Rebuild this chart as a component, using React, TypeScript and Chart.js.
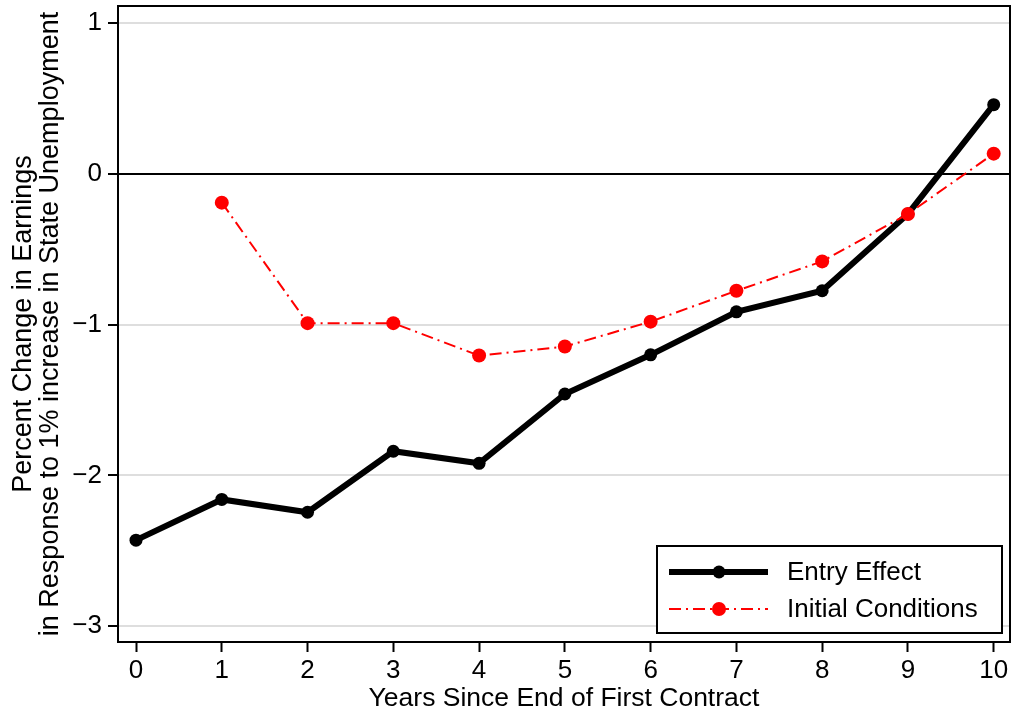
import React, { useEffect, useRef } from "react";
import { Chart, registerables } from "chart.js";

Chart.register(...registerables);

const years = [0, 1, 2, 3, 4, 5, 6, 7, 8, 9, 10];
const entryEffect = [-2.43, -2.16, -2.245, -1.84, -1.92, -1.46, -1.2, -0.915, -0.775, -0.265, 0.46];
const initialYears = [1, 2, 3, 4, 5, 6, 7, 8, 9, 10];
const initialConditions = [-0.19, -0.99, -0.99, -1.205, -1.145, -0.98, -0.775, -0.58, -0.265, 0.135];
const xTicks = [0, 1, 2, 3, 4, 5, 6, 7, 8, 9, 10];
const yTicks = [-3, -2, -1, 0, 1];
const seriesNames = ["Entry Effect", "Initial Conditions"];
const xTitle = "Years Since End of First Contract";
const yTitle = ["Percent Change in Earnings", "in Response to 1% increase in State Unemployment"];

const FONT = "'Liberation Sans', Arial, Helvetica, sans-serif";

const zeroPad = () => ({ left: 0, right: 0, top: 0, bottom: 0 });

const framePlugin = {
  id: "frameAndLegend",
  afterDraw(chart: any) {
    const { ctx, chartArea } = chart;
    ctx.save();
    ctx.strokeStyle = "#000";
    ctx.lineWidth = 2;
    ctx.strokeRect(chartArea.left, chartArea.top, chartArea.right - chartArea.left, chartArea.bottom - chartArea.top);
    // legend box
    const bx = 657, by = 546, bw = 345, bh = 87;
    ctx.fillStyle = "#fff";
    ctx.fillRect(bx, by, bw, bh);
    ctx.strokeRect(bx, by, bw, bh);
    const rows = [
      { y: 572, color: "#000", width: 6, dash: [] as number[], r: 6.5 },
      { y: 609, color: "#ff0000", width: 2, dash: [12, 5, 2, 5], r: 7 },
    ];
    rows.forEach((row, i) => {
      ctx.strokeStyle = row.color;
      ctx.lineWidth = row.width;
      ctx.setLineDash(row.dash);
      ctx.beginPath();
      ctx.moveTo(669, row.y);
      ctx.lineTo(768, row.y);
      ctx.stroke();
      ctx.setLineDash([]);
      ctx.fillStyle = row.color;
      ctx.beginPath();
      ctx.arc(719, row.y, row.r, 0, Math.PI * 2);
      ctx.fill();
      ctx.fillStyle = "#000";
      ctx.font = `26px ${FONT}`;
      ctx.textBaseline = "middle";
      ctx.textAlign = "left";
      ctx.fillText(seriesNames[i], 787, row.y + 1);
    });
    ctx.restore();
  },
};

export default function App() {
  const ref = useRef<HTMLCanvasElement>(null);
  useEffect(() => {
    document.body.style.margin = "0";
    const canvas = ref.current!;
    const chart = new Chart(canvas, {
      type: "line",
      data: {
        datasets: [
          {
            label: seriesNames[1],
            data: initialYears.map((x, i) => ({ x, y: initialConditions[i] })),
            borderColor: "#ff0000",
            backgroundColor: "#ff0000",
            borderWidth: 2,
            borderDash: [12, 5, 2, 5],
            pointRadius: 7,
            pointBorderWidth: 0,
            pointBackgroundColor: "#ff0000",
            tension: 0,
          },
          {
            label: seriesNames[0],
            data: years.map((x, i) => ({ x, y: entryEffect[i] })),
            borderColor: "#000",
            backgroundColor: "#000",
            borderWidth: 6,
            pointRadius: 6.5,
            pointBorderWidth: 0,
            pointBackgroundColor: "#000",
            tension: 0,
          },
        ],
      },
      options: {
        responsive: false,
        animation: false,
        layout: { autoPadding: false, padding: { top: 6, right: 1, left: 0, bottom: 0 } },
        plugins: { legend: { display: false }, tooltip: { enabled: false } },
        scales: {
          x: {
            type: "linear",
            min: -0.21,
            max: 10.19,
            afterBuildTicks: (s: any) => {
              s.ticks = xTicks.map((v) => ({ value: v }));
            },
            afterFit: (s: any) => {
              s.height = 71;
              s.paddingLeft = 0;
              s.paddingRight = 0;
              s.getPadding = zeroPad;
            },
            grid: { drawOnChartArea: false, drawTicks: true, tickLength: 10, tickColor: "#000", tickWidth: 2 },
            border: { display: true, color: "#000", width: 2 },
            ticks: {
              color: "#000",
              font: { family: FONT, size: 26 },
              padding: 3,
              maxRotation: 0,
              autoSkip: false,
              callback: (v: any) => String(v),
            },
            title: {
              display: true,
              text: xTitle,
              color: "#000",
              font: { family: FONT, size: 26.5, lineHeight: 1 },
              padding: { top: 0, bottom: 1 },
            },
          },
          y: {
            type: "linear",
            min: -3.106,
            max: 1.115,
            afterBuildTicks: (s: any) => {
              s.ticks = yTicks.map((v) => ({ value: v }));
            },
            afterFit: (s: any) => {
              s.width = 118;
              s.paddingTop = 0;
              s.paddingBottom = 0;
              s.getPadding = zeroPad;
            },
            grid: {
              drawTicks: true,
              tickLength: 10,
              tickColor: "#000",
              tickWidth: 2,
              color: (c: any) => (c.tick && c.tick.value === 0 ? "#000" : "#dedede"),
              lineWidth: 2,
            },
            border: { display: true, color: "#000", width: 2 },
            ticks: {
              color: "#000",
              font: { family: FONT, size: 26 },
              padding: 6,
              autoSkip: false,
              callback: (v: any) => (v < 0 ? "\u2212" + Math.abs(v) : String(v)),
            },
            title: {
              display: true,
              text: yTitle,
              color: "#000",
              font: { family: FONT, size: 27, lineHeight: 1 },
              padding: { top: 10, bottom: 0 },
            },
          },
        },
      },
      plugins: [framePlugin],
    } as any);
    return () => chart.destroy();
  }, []);
  return <canvas ref={ref} width={1011} height={713} style={{ display: "block" }} />;
}
